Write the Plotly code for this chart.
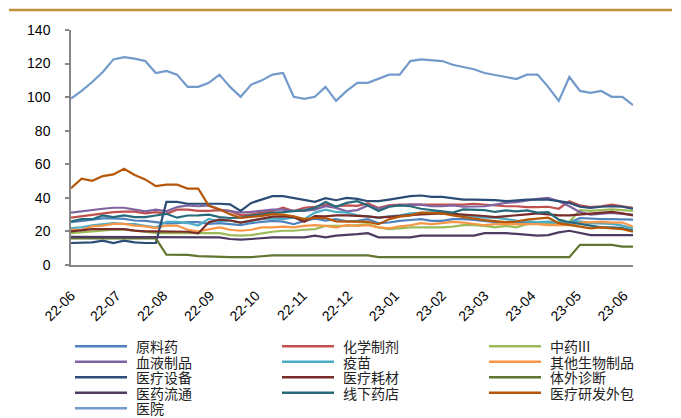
import plotly.graph_objects as go

dates = [
    "2022-06-01", "2022-06-08", "2022-06-15", "2022-06-22", "2022-06-29",
    "2022-07-06", "2022-07-13", "2022-07-20", "2022-07-27",
    "2022-08-03", "2022-08-10", "2022-08-17", "2022-08-24", "2022-08-31",
    "2022-09-07", "2022-09-14", "2022-09-21", "2022-09-28",
    "2022-10-05", "2022-10-12", "2022-10-19", "2022-10-26",
    "2022-11-02", "2022-11-09", "2022-11-16", "2022-11-23", "2022-11-30",
    "2022-12-07", "2022-12-14", "2022-12-21", "2022-12-28",
    "2023-01-04", "2023-01-11", "2023-01-18", "2023-01-25",
    "2023-02-01", "2023-02-08", "2023-02-15", "2023-02-22",
    "2023-03-01", "2023-03-08", "2023-03-15", "2023-03-22", "2023-03-29",
    "2023-04-05", "2023-04-12", "2023-04-19", "2023-04-26",
    "2023-05-03", "2023-05-10", "2023-05-17", "2023-05-24", "2023-05-31",
    "2023-06-07",
]

tick_dates = ["2022-06-01", "2022-07-01", "2022-08-01", "2022-09-01", "2022-10-01",
              "2022-11-01", "2022-12-01", "2023-01-01", "2023-02-01", "2023-03-01",
              "2023-04-01", "2023-05-01", "2023-06-01"]
tick_labels = ["22-06", "22-07", "22-08", "22-09", "22-10", "22-11", "22-12",
               "23-01", "23-02", "23-03", "23-04", "23-05", "23-06"]

yuanliaoyao = [25.5, 26.3, 27, 27.8, 27.8, 27.5, 26.5, 26.3, 25.5, 24.8, 25, 25.5, 25.5, 24.5,
               24.9, 24.3, 23.7, 25, 25.7, 26.3, 25.8, 24.3, 26.3, 27.6, 26.5, 27.3, 26,
               26.3, 27.3, 24.9, 25.3, 26.3, 26.8, 27.3, 26.3, 26.3, 27.3, 27.3, 26.8, 26.3,
               25.7, 24.9, 24.9, 24.9, 24.9, 25.3, 24.9, 25.3, 28, 27.5, 27.3, 27.3, 27.3, 27]
huaxuezhiji = [28.2, 29, 30, 30.5, 31.5, 31.8, 31.8, 30.8, 31.5, 30.5, 33, 33, 32.2, 32.2,
               32.7, 32.2, 29.6, 30.2, 31.2, 32.2, 34.1, 32.2, 34.1, 34.7, 36, 35, 35.5,
               35.2, 36.7, 34, 35.5, 36, 36, 36, 36, 36, 36, 36, 36.5, 36,
               35.5, 35, 35, 34.5, 34.5, 34.7, 33.5, 38, 35.5, 34.5, 35, 36, 35, 34]
zhongyao = [19, 19.5, 20.4, 20.8, 21, 21, 20.5, 19.8, 19, 19, 19, 18.8, 18.8, 18.8,
            19, 17.8, 17.5, 17.8, 19, 19.8, 20.4, 20.4, 21, 21.4, 23.3, 23.3, 23.5,
            23.8, 24.3, 22.4, 21.4, 21.8, 22.4, 22.4, 22.4, 22.4, 22.9, 23.7, 23.7, 23.3,
            22.4, 23.3, 22.4, 24.3, 25, 25.3, 25.7, 25.7, 32.7, 32.2, 32.7, 33.1, 32.7, 32.2]
xueye = [31.2, 32, 33, 33.5, 34.1, 34.1, 33, 32, 33, 32, 34.5, 35.5, 35, 35.5,
         33, 32, 31.2, 31.6, 32.2, 33, 33, 32.2, 32.2, 33, 35, 34, 32,
         32.7, 35.5, 33.5, 35, 35.5, 36, 36, 35, 35, 35.5, 34.7, 35, 35,
         36, 37, 37.5, 38.6, 39.4, 40, 38, 35, 31.5, 30, 30.5, 31, 30.5, 30]
yimiao = [22, 22.5, 23.7, 24.5, 24.9, 24.5, 24.3, 23.3, 22.4, 25.7, 25.7, 25, 23.5, 27.5,
          26, 26.5, 25.3, 26.3, 27.3, 27.8, 27.3, 28.2, 27.3, 31.2, 33, 31.6, 31.2,
          29.6, 29, 28.2, 29, 29.6, 30.8, 31.2, 31.2, 31.6, 30.2, 29.6, 29, 28.2,
          28.2, 27.3, 26.5, 26, 25.5, 25.8, 25.3, 25.6, 26, 24.9, 24.5, 24.5, 23.5, 21.8]
qitashengwu = [21, 21, 23, 23.5, 24.5, 24.5, 23.5, 23, 22, 23.5, 23.5, 21, 20, 21,
               22.4, 21, 20.4, 21, 22.4, 22.4, 22.9, 22.4, 23.3, 23.7, 23.3, 22.4, 23.7,
               23.3, 23.7, 22.4, 21.8, 23, 23.7, 24.9, 24.3, 24.9, 25.7, 25.3, 24.3, 23.7,
               24.3, 24.3, 24.3, 24.3, 24.3, 23.7, 23.7, 23.7, 25.3, 25.7, 25.7, 25.3, 25.3, 22.9]
yiliaoshebei = [13.1, 13.1, 13.5, 14.5, 13.1, 14.5, 13.5, 13.1, 13.1, 37.6, 37.6, 36.5, 36.5, 36.6,
                36.5, 36.1, 32.2, 37, 39, 41, 41, 40, 39, 37.6, 39.8, 38.6, 40,
                39.4, 38, 38, 39, 40, 41, 41.4, 40.6, 40.6, 40, 39, 39, 39,
                38.6, 38, 38.6, 39, 39, 39, 38, 37, 34.7, 34, 34.7, 35, 34.7, 33.5]
yiliaohaocai = [20, 20.5, 21.4, 21.4, 21.4, 21.4, 20.5, 20, 20, 19.8, 19.8, 19.8, 18.8, 25.5,
                27, 26.5, 25.3, 26.5, 27.5, 28.8, 29, 28.5, 25.7, 29.2, 29, 29.6, 29.6,
                29.4, 29, 28.2, 28.8, 29, 29.6, 30.2, 30.5, 30.8, 30.5, 30.2, 29.8, 29.2,
                28.5, 29.2, 29.6, 30.2, 30.8, 30.2, 29.6, 29.6, 30.2, 30.8, 31.2, 31.6, 30.8, 29.6]
tiwaizhenduan = [15.9, 15.9, 15.9, 15.9, 15.9, 15.9, 15.9, 15.9, 15.9, 6.1, 6, 6, 5.3, 5,
                 5.1, 4.7, 4.7, 4.7, 5.2, 5.7, 5.7, 5.7, 5.7, 5.7, 5.7, 5.7, 5.7,
                 5.7, 5.7, 4.7, 4.7, 4.7, 4.7, 4.7, 4.7, 4.7, 4.7, 4.7, 4.7, 4.7,
                 4.7, 4.7, 4.7, 4.7, 4.7, 4.7, 4.7, 4.7, 12, 12, 12, 12, 11, 11]
yiyaoliutong = [16.8, 16.8, 16.8, 16.8, 16.8, 16.8, 16.8, 16.8, 16.8, 16.8, 16.8, 16.8, 16.8, 16.8,
                16.5, 15.5, 15.1, 15.5, 16, 16.5, 16.5, 16.5, 16.5, 17.5, 16.5, 17.5, 17.8,
                18.4, 19, 16.5, 16.5, 16.5, 16.5, 17.5, 17.5, 17.5, 17.5, 17.5, 17.5, 19,
                19, 19, 18.5, 17.8, 17.5, 17.8, 19.4, 20.4, 19, 17.8, 17.8, 17.8, 17.8, 17.8]
xianxiayaodian = [26, 27.3, 27.3, 29.5, 28.5, 29.5, 28.5, 28.5, 29.5, 30.5, 28.2, 29.5, 29.6, 30,
                  28.5, 28, 28.2, 29.5, 30.2, 31.2, 31.5, 32.2, 32.7, 34, 37.5, 34.7, 37,
                  38, 35.5, 32.2, 34.7, 35.5, 35, 33.5, 32.7, 31.6, 31.2, 33.1, 32.7, 32.7,
                  31.6, 32.5, 32, 32.5, 31.2, 31.5, 27, 25.5, 24.5, 23.3, 22.4, 22.4, 22, 20.5]
yanfawaibao = [45.7, 51.4, 50.2, 53, 54, 57.3, 53.6, 51, 47, 47.9, 47.9, 45.5, 45.5, 35.2,
               33.2, 30.3, 28, 28.5, 29.3, 30.3, 30, 29, 27.3, 28, 28, 26, 25.9,
               25.9, 25.7, 24.3, 27.3, 28.8, 29.6, 31.2, 31.2, 30.8, 29.6, 28.8, 27.6, 26.7,
               25.9, 25.5, 25.9, 27, 27.6, 28.2, 24.9, 23.7, 22.9, 21.8, 22.4, 21.8, 21.4, 19.8]
yiyuan = [99.2, 103.7, 109, 115, 122.5, 123.8, 122.9, 121.5, 114.4, 115.6, 113.4, 106.1, 106.1, 108.5,
          113.4, 106.1, 100.2, 107.5, 110, 113.4, 114.4, 100.2, 99, 100.2, 106.1, 97.8, 103.7,
          108.5, 108.5, 110.8, 113.4, 113.4, 121.5, 122.5, 122, 121.5, 119.3, 118, 116.6, 114.4,
          113.4, 112, 110.8, 113.4, 113.4, 106.1, 97.8, 112, 103.7, 102.6, 103.7, 100.2, 100.2, 95.3]

series_names = ["原料药", "化学制剂", "中药III", "血液制品", "疫苗", "其他生物制品",
                "医疗设备", "医疗耗材", "体外诊断", "医药流通", "线下药店", "医疗研发外包", "医院"]
series_values = [yuanliaoyao, huaxuezhiji, zhongyao, xueye, yimiao, qitashengwu,
                 yiliaoshebei, yiliaohaocai, tiwaizhenduan, yiyaoliutong, xianxiayaodian,
                 yanfawaibao, yiyuan]
series_colors = ["#4F81BD", "#C0504D", "#9BBB59", "#8064A2", "#4BACC6", "#F79646",
                 "#2C4D75", "#772C2A", "#5F7530", "#4D3B62", "#276A7C", "#B65708", "#729ACA"]

# The page body has an 8px margin; figure is sized to fit the 681x418 window.
OFF = 8
W, H = 681 - OFF, 418 - OFF
L, T = 71 - OFF, 29.5 - OFF
PLOT_R, PLOT_B = 633 - OFF, 265 - OFF
R, B = W - PLOT_R, H - PLOT_B
PW, PH = PLOT_R - L, PLOT_B - T


def px_x(page_px):
    return (page_px - OFF - L) / PW


def px_y(page_py):
    return (PLOT_B - (page_py - OFF)) / PH


fig = go.Figure()
for name, vals, col in zip(series_names, series_values, series_colors):
    fig.add_trace(go.Scatter(x=dates, y=vals, mode="lines", name=name,
                             line=dict(color=col, width=2.2), showlegend=False))

shapes = []
annotations = []
# top gold rule
shapes.append(dict(type="line", xref="paper", yref="paper",
                   x0=px_x(9), x1=px_x(672), y0=px_y(9.5), y1=px_y(9.5),
                   line=dict(color="#C0913F", width=2.5)))

# manual legend (3 columns, row-major order)
col_x = [75, 282, 489]
row_y = [346.5, 362, 377.5, 393, 408.5]
for i, (name, col) in enumerate(zip(series_names, series_colors)):
    r, c = divmod(i, 3)
    x0 = col_x[c]
    y = row_y[r]
    shapes.append(dict(type="line", xref="paper", yref="paper",
                       x0=px_x(x0), x1=px_x(x0 + 52), y0=px_y(y), y1=px_y(y),
                       line=dict(color=col, width=2.5)))
    annotations.append(dict(xref="paper", yref="paper", x=px_x(x0 + 59), y=px_y(y),
                            text=name, showarrow=False, xanchor="left", yanchor="middle",
                            font=dict(family="Noto Sans CJK SC", size=14, color="#222222")))

fig.update_layout(
    template="none",
    width=W, height=H,
    margin=dict(l=L, r=R, t=T, b=B, pad=0),
    paper_bgcolor="white", plot_bgcolor="white",
    showlegend=False,
    font=dict(family="Liberation Sans, Arial", size=14, color="#000000"),
    shapes=shapes,
    annotations=annotations,
    xaxis=dict(
        type="date",
        range=["2022-06-01", "2023-06-07"],
        tickvals=tick_dates, ticktext=tick_labels,
        tickangle=-45,
        showgrid=False, zeroline=False,
        showline=True, linecolor="#868686", linewidth=2,
        ticks="", ticklabelstandoff=15,
        tickfont=dict(family="Liberation Sans, Arial", size=14, color="#000000"),
        automargin=False,
    ),
    yaxis=dict(
        range=[0, 140], dtick=20, tick0=0,
        showgrid=False, zeroline=False,
        showline=True, linecolor="#868686", linewidth=1.5,
        ticks="outside", ticklen=4, tickcolor="#868686", tickwidth=1.5,
        ticklabelstandoff=12,
        tickfont=dict(family="Liberation Sans, Arial", size=14, color="#000000"),
        automargin=False,
    ),
)

fig.write_html("out.html")
